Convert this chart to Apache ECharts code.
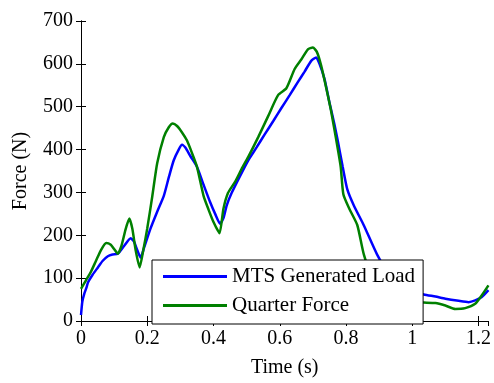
<!DOCTYPE html>
<html>
<head>
<meta charset="utf-8">
<script src="https://cdn.jsdelivr.net/npm/echarts@6/dist/echarts.min.js"></script>
<style>
html,body{margin:0;padding:0;background:#fff;}
#chart{width:494px;height:383px;}
</style>
</head>
<body>
<div id="chart"></div>
<script>
var seriesNames = ['MTS Generated Load', 'Quarter Force'];
var xTitle = 'Time (s)';
var yTitle = 'Force (N)';

var timeBlue = [0, 0.004, 0.01, 0.017, 0.021, 0.035, 0.051, 0.065, 0.081, 0.095, 0.111, 0.13, 0.15, 0.16, 0.17, 0.18, 0.19, 0.21, 0.23, 0.25, 0.265, 0.28, 0.295, 0.305, 0.315, 0.33, 0.35, 0.37, 0.39, 0.405, 0.42, 0.43, 0.44, 0.455, 0.48, 0.505, 0.53, 0.555, 0.58, 0.605, 0.63, 0.655, 0.675, 0.695, 0.71, 0.72, 0.735, 0.75, 0.765, 0.775, 0.79, 0.804, 0.824, 0.854, 0.894, 0.93, 0.97, 1.0, 1.035, 1.07, 1.1, 1.14, 1.17, 1.19, 1.21, 1.23];
var forceBlue = [14, 45, 64, 79, 90, 108, 125, 140, 151, 155, 157, 175, 193, 185, 165, 148, 170, 216, 255, 292, 335, 375, 400, 411, 405, 385, 360, 318, 277, 250, 227, 240, 270, 299, 338, 375, 405, 436, 466, 497, 527, 558, 582, 607, 615, 600, 565, 510, 459, 421, 360, 307, 269, 223, 155, 110, 80, 70, 62, 57, 52, 47, 44, 48, 56, 72];

var timeGreen = [0, 0.015, 0.03, 0.045, 0.06, 0.076, 0.09, 0.1, 0.111, 0.122, 0.135, 0.146, 0.155, 0.165, 0.177, 0.188, 0.2, 0.215, 0.23, 0.25, 0.265, 0.277, 0.29, 0.305, 0.32, 0.335, 0.35, 0.37, 0.385, 0.4, 0.418, 0.43, 0.444, 0.466, 0.485, 0.505, 0.535, 0.565, 0.595, 0.62, 0.645, 0.665, 0.685, 0.7, 0.712, 0.725, 0.74, 0.755, 0.77, 0.784, 0.792, 0.81, 0.834, 0.854, 0.88, 0.91, 0.95, 1.0, 1.035, 1.07, 1.1, 1.13, 1.16, 1.19, 1.21, 1.23];
var forceGreen = [75, 95, 115, 140, 165, 182, 178, 168, 157, 175, 215, 239, 215, 165, 125, 165, 216, 290, 368, 429, 452, 461, 455, 440, 421, 392, 360, 292, 260, 231, 205, 262, 299, 326, 355, 383, 429, 478, 527, 543, 588, 610, 634, 638, 628, 596, 545, 490, 425, 360, 296, 262, 224, 155, 100, 65, 48, 44, 43, 42, 36, 28, 30, 40, 60, 83];

function pairs(xs, ys) {
  var out = [];
  for (var i = 0; i < xs.length; i++) out.push([xs[i], ys[i]]);
  return out;
}

var FONT = 'Liberation Serif';
var chart = echarts.init(document.getElementById('chart'), null, {renderer: 'canvas'});

var axisLineStyle = {show: true, lineStyle: {color: '#000', width: 1}};
var tickStyle = {show: true, inside: true, length: 5, lineStyle: {color: '#000', width: 1}};

chart.setOption({
  animation: false,
  backgroundColor: '#fff',
  grid: {left: 81, right: 2, top: 21, bottom: 55, containLabel: false},
  legend: {
    orient: 'vertical',
    left: 152,
    top: 260,
    data: seriesNames,
    icon: 'rect',
    itemWidth: 64,
    itemHeight: 3,
    itemGap: 8,
    padding: [6, 8, 8, 11],
    backgroundColor: '#fff',
    borderColor: '#000',
    borderWidth: 1,
    borderRadius: 0,
    textStyle: {fontFamily: FONT, fontSize: 21, color: '#000', lineHeight: 21}
  },
  xAxis: [{
    type: 'value', min: 0, max: 1.23, interval: 0.2,
    name: xTitle, nameLocation: 'middle', nameGap: 37,
    nameTextStyle: {fontFamily: FONT, fontSize: 20, color: '#000'},
    axisLine: axisLineStyle, axisTick: tickStyle,
    axisLabel: {fontFamily: FONT, fontSize: 20, color: '#000', margin: 8, showMaxLabel: false},
    splitLine: {show: false}
  }, {
    type: 'value', min: 0, max: 1.23, interval: 0.2, position: 'top',
    axisLine: axisLineStyle, axisTick: tickStyle,
    axisLabel: {show: false}, splitLine: {show: false}
  }],
  yAxis: [{
    type: 'value', min: 0, max: 700, interval: 100,
    name: yTitle, nameLocation: 'middle', nameGap: 50,
    nameTextStyle: {fontFamily: FONT, fontSize: 20, color: '#000'},
    axisLine: axisLineStyle, axisTick: tickStyle,
    axisLabel: {fontFamily: FONT, fontSize: 20, color: '#000', margin: 8},
    splitLine: {show: false}
  }, {
    type: 'value', min: 0, max: 700, interval: 100, position: 'right',
    axisLine: axisLineStyle, axisTick: tickStyle,
    axisLabel: {show: false}, splitLine: {show: false}
  }],
  series: [{
    name: seriesNames[0], type: 'line', symbol: 'none', smooth: 0.2,
    data: pairs(timeBlue, forceBlue),
    itemStyle: {color: '#0000ff'},
    lineStyle: {color: '#0000ff', width: 2.5}
  }, {
    name: seriesNames[1], type: 'line', symbol: 'none', smooth: 0.2,
    data: pairs(timeGreen, forceGreen),
    itemStyle: {color: '#008000'},
    lineStyle: {color: '#008000', width: 2.5}
  }]
});
</script>
</body>
</html>
